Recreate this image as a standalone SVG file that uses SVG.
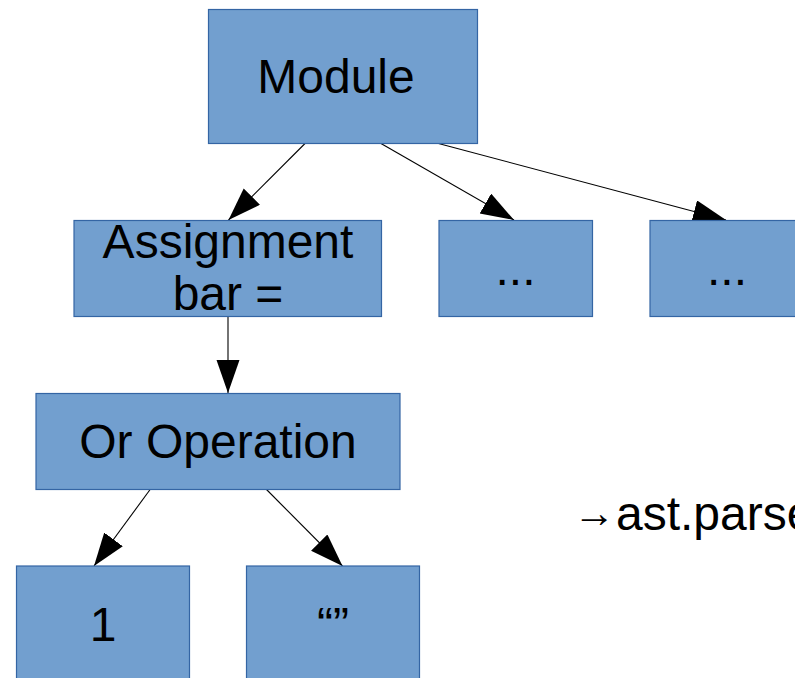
<svg xmlns="http://www.w3.org/2000/svg" width="795" height="678" viewBox="0 0 795 678">
<style>
.box{fill:#729fcf;stroke:#3465a4;stroke-width:1.2}
.lbl{font-family:"Liberation Sans",Arial,sans-serif;font-size:48px;fill:#000;text-anchor:middle}
.edge{stroke:#000;stroke-width:1.1;fill:none;marker-end:url(#ah)}
</style>
<defs>
<marker id="ah" markerUnits="userSpaceOnUse" markerWidth="34" markerHeight="24" refX="33" refY="11.5" orient="auto">
<path d="M0,0 L33,11.5 L0,23 z" fill="#000"/>
</marker>
</defs>
<rect width="795" height="678" fill="#fff"/>
<g id="connectors">
<line class="edge" x1="305" y1="143.5" x2="228.5" y2="220"/>
<line class="edge" x1="381" y1="143.5" x2="514" y2="220"/>
<line class="edge" x1="438.5" y1="143.5" x2="726" y2="220"/>
<line class="edge" x1="228" y1="316.5" x2="228" y2="393"/>
<line class="edge" x1="150.5" y1="489" x2="94" y2="566"/>
<line class="edge" x1="266" y1="489" x2="342.5" y2="566"/>
</g>
<g id="module">
<rect class="box" x="208.5" y="9.5" width="269" height="134"/>
<text class="lbl" x="336" y="93">Module</text>
</g>
<g id="assignment">
<rect class="box" x="74" y="220.5" width="307.5" height="96"/>
<text class="lbl" x="228" y="258">Assignment</text>
<text class="lbl" x="228" y="310">bar =</text>
</g>
<g id="dots1">
<rect class="box" x="439" y="220.5" width="153.5" height="96"/>
<text class="lbl" x="515.5" y="285">...</text>
</g>
<g id="dots2">
<rect class="box" x="650" y="220.5" width="154" height="96"/>
<text class="lbl" x="727" y="285">...</text>
</g>
<g id="oroperation">
<rect class="box" x="36" y="393.5" width="364" height="96"/>
<text class="lbl" x="218" y="458">Or Operation</text>
</g>
<g id="one">
<rect class="box" x="16.5" y="566" width="173" height="130"/>
<text class="lbl" x="103" y="641">1</text>
</g>
<g id="emptystr">
<rect class="box" x="246.5" y="566" width="173" height="130"/>
<text class="lbl" x="333" y="641">“”</text>
</g>
<g id="note">
<text font-family="'Liberation Sans',Arial,sans-serif" font-size="48" fill="#000"><tspan x="573" y="527" font-size="42">→</tspan><tspan x="616" y="530">ast.parse</tspan></text>
</g>
</svg>
